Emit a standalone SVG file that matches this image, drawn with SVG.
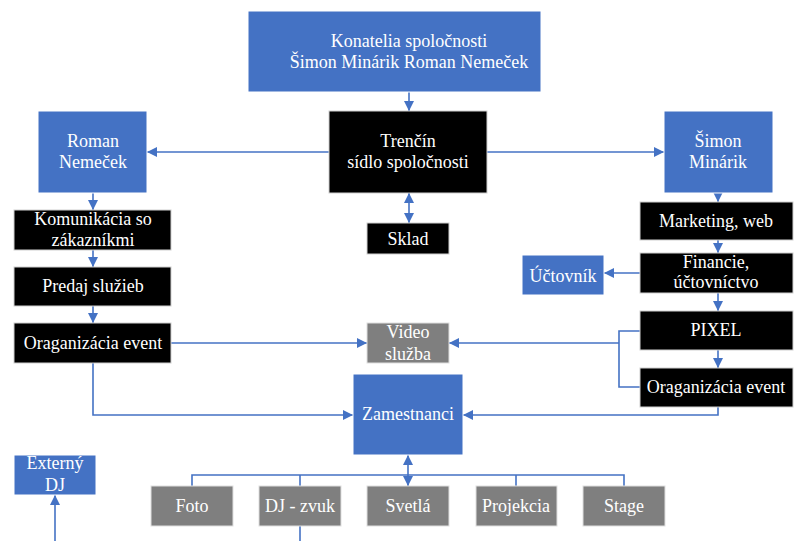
<svg xmlns="http://www.w3.org/2000/svg" width="794" height="541" viewBox="0 0 794 541">
  <style>
    .blue { fill: #4472C4; stroke: #ffffff; stroke-width: 1; }
    .black { fill: #000000; stroke: #d0d0d0; stroke-width: 1; }
    .gray { fill: #7F7F7F; stroke: #e0e0e0; stroke-width: 1; }
    text { font-family: "Liberation Serif", "Times New Roman", serif; font-size: 18px; fill: #ffffff; text-anchor: middle; }
    .link { fill: none; stroke: #4472C4; stroke-width: 1.6; }
    .arrow { marker-end: url(#head); }
    .both { marker-start: url(#head); marker-end: url(#head); }
  </style>
  <defs>
    <marker id="head" viewBox="0 0 10 10" refX="10" refY="5" markerUnits="userSpaceOnUse" markerWidth="10" markerHeight="10" orient="auto-start-reverse">
      <path d="M0,0 L10,5 L0,10 z" fill="#4472C4"/>
    </marker>
  </defs>
  <rect width="794" height="541" fill="#ffffff"/>

  <g id="connectors">
    <!-- owners to head office -->
    <line class="link arrow" x1="409" y1="92" x2="409" y2="111"/>
    <line class="link both" x1="409" y1="193" x2="409" y2="223"/>
    <line class="link arrow" x1="329" y1="152" x2="147" y2="152"/>
    <line class="link arrow" x1="487" y1="152" x2="664" y2="152"/>
    <!-- left branch -->
    <line class="link arrow" x1="93" y1="193" x2="93" y2="210"/>
    <line class="link arrow" x1="93" y1="250" x2="93" y2="267"/>
    <line class="link arrow" x1="93" y1="306" x2="93" y2="323"/>
    <line class="link arrow" x1="171" y1="343" x2="367" y2="343"/>
    <polyline class="link arrow" points="93,363 93,415 353,415"/>
    <!-- right branch -->
    <line class="link arrow" x1="718" y1="193" x2="718" y2="202"/>
    <line class="link arrow" x1="718" y1="240" x2="718" y2="253"/>
    <line class="link arrow" x1="640" y1="273" x2="604" y2="273"/>
    <line class="link arrow" x1="718" y1="293" x2="718" y2="311"/>
    <line class="link arrow" x1="718" y1="350" x2="718" y2="368"/>
    <polyline class="link" points="640,331 619,331 619,387 640,387"/>
    <line class="link arrow" x1="619" y1="343" x2="449" y2="343"/>
    <polyline class="link arrow" points="718,407 718,415 463,415"/>
    <!-- staff to teams -->
    <line class="link both" x1="408" y1="455" x2="408" y2="486"/>
    <polyline class="link" points="192,486 192,475 624,475 624,486"/>
    <line class="link" x1="300" y1="475" x2="300" y2="486"/>
    <line class="link" x1="516" y1="475" x2="516" y2="486"/>
    <line class="link" x1="300" y1="526" x2="300" y2="541"/>
    <line class="link arrow" x1="55" y1="541" x2="55" y2="495"/>
  </g>

  <g id="konatelia">
    <rect class="blue" x="248" y="11" width="293" height="81"/>
    <text x="409" y="47">Konatelia spoločnosti</text>
    <text x="409" y="68">Šimon Minárik Roman Nemeček</text>
  </g>
  <g id="trencin">
    <rect class="black" x="329" y="111" width="158" height="82"/>
    <text x="408" y="147">Trenčín</text>
    <text x="408" y="168">sídlo spoločnosti</text>
  </g>
  <g id="sklad">
    <rect class="black" x="367" y="223" width="82" height="31"/>
    <text x="408" y="245">Sklad</text>
  </g>
  <g id="roman">
    <rect class="blue" x="38" y="111" width="109" height="82"/>
    <text x="93" y="147">Roman</text>
    <text x="93" y="168">Nemeček</text>
  </g>
  <g id="komunikacia">
    <rect class="black" x="14" y="210" width="157" height="40"/>
    <text x="93" y="225">Komunikácia so</text>
    <text x="93" y="246">zákazníkmi</text>
  </g>
  <g id="predaj">
    <rect class="black" x="14" y="267" width="157" height="39"/>
    <text x="93" y="292">Predaj služieb</text>
  </g>
  <g id="event-left">
    <rect class="black" x="14" y="323" width="157" height="40"/>
    <text x="93" y="349">Oraganizácia event</text>
  </g>
  <g id="video">
    <rect class="gray" x="367" y="323" width="82" height="40"/>
    <text x="408" y="338">Video</text>
    <text x="408" y="360">služba</text>
  </g>
  <g id="zamestnanci">
    <rect class="blue" x="353" y="374" width="110" height="81"/>
    <text x="408" y="420">Zamestnanci</text>
  </g>
  <g id="simon">
    <rect class="blue" x="664" y="111" width="109" height="82"/>
    <text x="718" y="147">Šimon</text>
    <text x="718" y="168">Minárik</text>
  </g>
  <g id="marketing">
    <rect class="black" x="640" y="202" width="153" height="38"/>
    <text x="716" y="227">Marketing, web</text>
  </g>
  <g id="financie">
    <rect class="black" x="640" y="253" width="153" height="40"/>
    <text x="716" y="268">Financie,</text>
    <text x="716" y="288">účtovníctvo</text>
  </g>
  <g id="uctovnik">
    <rect class="blue" x="522" y="255" width="82" height="40"/>
    <text x="563" y="282">Účtovník</text>
  </g>
  <g id="pixel">
    <rect class="black" x="640" y="311" width="153" height="39"/>
    <text x="716" y="336">PIXEL</text>
  </g>
  <g id="event-right">
    <rect class="black" x="640" y="368" width="153" height="39"/>
    <text x="716" y="393">Oraganizácia event</text>
  </g>
  <g id="externy-dj">
    <rect class="blue" x="14" y="455" width="82" height="40"/>
    <text x="55" y="469">Externý</text>
    <text x="55" y="491">DJ</text>
  </g>
  <g id="foto">
    <rect class="gray" x="151" y="486" width="82" height="40"/>
    <text x="192" y="512">Foto</text>
  </g>
  <g id="dj-zvuk">
    <rect class="gray" x="259" y="486" width="82" height="40"/>
    <text x="300" y="512">DJ - zvuk</text>
  </g>
  <g id="svetla">
    <rect class="gray" x="367" y="486" width="82" height="40"/>
    <text x="408" y="512">Svetlá</text>
  </g>
  <g id="projekcia">
    <rect class="gray" x="476" y="486" width="81" height="40"/>
    <text x="516" y="512">Projekcia</text>
  </g>
  <g id="stage">
    <rect class="gray" x="583" y="486" width="82" height="40"/>
    <text x="624" y="512">Stage</text>
  </g>
</svg>
